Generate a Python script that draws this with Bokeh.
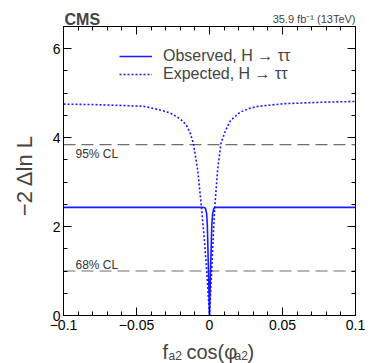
from bokeh.plotting import figure
from bokeh.models import (LinearAxis, FixedTicker, Label, Legend, LegendItem, Range1d,
                          CustomJSTickFormatter)
from bokeh.embed import file_html
from bokeh.resources import INLINE

# ---------------- data ----------------
obs_x = [-0.1, -0.05, -0.02, -0.004, -0.0028, -0.002, -0.0015, -0.0007, 0.0,
         0.0007, 0.0016, 0.0022, 0.003, 0.0042, 0.02, 0.05, 0.1]
obs_y = [2.43, 2.43, 2.43, 2.43, 2.41, 2.3, 2.05, 1.0, 0.0,
         1.0, 2.05, 2.3, 2.41, 2.43, 2.43, 2.43, 2.43]

exp_x = [-0.1, -0.08, -0.06, -0.045, -0.034, -0.027, -0.022, -0.018, -0.015, -0.013,
         -0.011, -0.008, -0.0055, -0.0035, -0.0018, 0.0,
         0.0015, 0.0026, 0.0036, 0.0055, 0.0078, 0.011, 0.0144, 0.021, 0.027, 0.033,
         0.051, 0.075, 0.1]
exp_y = [4.75, 4.74, 4.72, 4.70, 4.62, 4.55, 4.46, 4.36, 4.23, 4.08,
         3.86, 3.25, 2.43, 1.7, 0.95, 0.0,
         1.0, 1.8, 2.43, 3.25, 3.86, 4.16, 4.38, 4.57, 4.65, 4.70,
         4.76, 4.79, 4.81]

cl_levels = [1.0, 3.84]
cl_labels = ["68% CL", "95% CL"]

x_lim = [-0.1, 0.1]
y_lim = [0.0, 6.5]
x_major = [-0.1, -0.05, 0.0, 0.05, 0.1]
x_major_labels = ["\u22120.1", "\u22120.05", "0", "0.05", "0.1"]
x_minor = [round(-0.1 + 0.01 * i, 3) for i in range(21)]
y_major = [0, 2, 4, 6]
y_major_labels = ["0", "2", "4", "6"]
y_minor = [0.5 * i for i in range(14)]

legend_labels = ["Observed, H \u2192 \u03c4\u03c4", "Expected, H \u2192 \u03c4\u03c4"]

FONT = "Liberation Sans"
BLUE = "#1a1aff"

# ---------------- layout (pixels) ----------------
W, H = 374, 363
BOX_L, BOX_R, BOX_B = 63, 355, 315
KX = (x_lim[1] - x_lim[0]) / (BOX_R - BOX_L)   # data per px
KY = 6.0 / (BOX_B - 48)                         # 6 units between y=315 and y=48

x_range = Range1d(x_lim[0] - BOX_L * KX, x_lim[1] + (W - BOX_R) * KX)
y_range = Range1d(y_lim[0] - (H - BOX_B) * KY, y_lim[0] + BOX_B * KY)

def dx(px):
    return x_lim[0] + (px - BOX_L) * KX

def dy(py):
    return y_lim[0] + (BOX_B - py) * KY

p = figure(width=W, height=H, output_backend="svg", toolbar_location=None,
           x_range=x_range, y_range=y_range, title_location=None,
           min_border=0, x_axis_location=None, y_axis_location=None)
p.xgrid.visible = False
p.ygrid.visible = False
p.outline_line_color = None
p.background_fill_color = "white"
p.border_fill_color = "white"

xt = FixedTicker(ticks=x_major, minor_ticks=x_minor)
yt = FixedTicker(ticks=y_major, minor_ticks=y_minor)
empty = CustomJSTickFormatter(code="return ''")

def make_axis(ticker, loc, bounds, labels=None, ticks=None, standoff=3):
    ax = LinearAxis(ticker=ticker, fixed_location=loc, bounds=tuple(bounds))
    ax.major_tick_in = 8
    ax.major_tick_out = 0
    ax.minor_tick_in = 4
    ax.minor_tick_out = 0
    ax.axis_line_color = "black"
    ax.axis_line_width = 1
    ax.major_tick_line_color = "black"
    ax.minor_tick_line_color = "black"
    ax.major_label_text_font = FONT
    ax.major_label_text_font_size = "14px"
    ax.major_label_text_color = "black"
    ax.major_label_standoff = standoff
    if labels is None:
        ax.formatter = empty
    else:
        ax.major_label_overrides = {t: l for t, l in zip(ticks, labels)}
    return ax

p.add_layout(make_axis(xt, y_lim[0], x_lim, x_major_labels, x_major, 4), "below")
p.add_layout(make_axis(yt, x_lim[0], y_lim, y_major_labels, y_major, 3), "left")
p.add_layout(make_axis(xt, y_lim[1], x_lim), "above")
p.add_layout(make_axis(yt, x_lim[1], y_lim), "right")

# CL lines
for lev in cl_levels:
    p.line(x_lim, [lev, lev], line_color="#6e6e6e", line_width=1.2, line_dash="12 6")

r_obs = p.line(obs_x, obs_y, line_color=BLUE, line_width=1.6)
r_exp = p.line(exp_x, exp_y, line_color=BLUE, line_width=1.6, line_dash="2 2")

leg = Legend(items=[LegendItem(label=legend_labels[0], renderers=[r_obs]),
                    LegendItem(label=legend_labels[1], renderers=[r_exp])],
             location=(119, H - 83), orientation="vertical")
leg.label_text_font = FONT
leg.label_text_font_size = "16px"
leg.label_height = 16
leg.glyph_height = 16
leg.glyph_width = 33
leg.label_standoff = 11
leg.padding = 0
leg.spacing = 0
leg.margin = 0
leg.border_line_color = None
leg.background_fill_alpha = 0
p.add_layout(leg)

# CL texts
p.add_layout(Label(x=dx(75), y=dy(264), text=cl_labels[0], text_font=FONT,
                   text_font_size="12px", text_baseline="middle", text_color="#333333"))
p.add_layout(Label(x=dx(75), y=dy(153), text=cl_labels[1], text_font=FONT,
                   text_font_size="12px", text_baseline="middle", text_color="#333333"))

# header
p.add_layout(Label(x=dx(64), y=dy(19), text="CMS", text_font=FONT,
                   text_font_style="bold", text_font_size="16px", text_baseline="alphabetic"))
p.add_layout(Label(x=dx(355), y=dy(18), text="35.9 fb\u207b\u00b9 (13TeV)", text_font=FONT,
                   text_font_size="11px", text_align="right", text_baseline="alphabetic"))

# y axis title
p.add_layout(Label(x=dx(24), y=dy(175), text="\u22122 \u0394ln L", text_font=FONT,
                   text_font_size="22px", angle=1.5707963, text_align="center",
                   text_baseline="middle"))

# x axis title pieces
pieces = [("f", 162, 351, "20px"), ("a2", 168, 355, "12px"), ("cos(\u03c6", 186, 351, "20px"),
          ("a2", 234, 355, "12px"), (")", 247, 351, "20px")]
for t, px, py, fs in pieces:
    p.add_layout(Label(x=dx(px), y=dy(py), text=t, text_font=FONT, text_font_size=fs,
                       text_align="left", text_baseline="alphabetic"))

open("out.html", "w").write(file_html(p, INLINE))
